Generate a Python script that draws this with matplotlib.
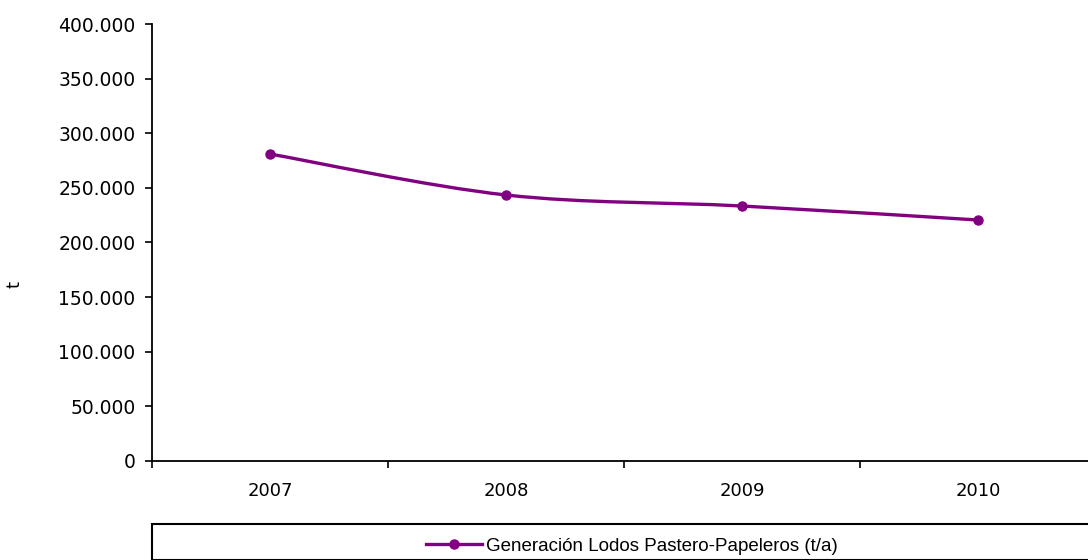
import matplotlib
matplotlib.use("Agg")
from matplotlib import pyplot as plt
from matplotlib.path import Path
from matplotlib.patches import PathPatch, Rectangle
from matplotlib.lines import Line2D
from matplotlib.ticker import FuncFormatter, FixedLocator
import numpy as np

years = ['2007', '2008', '2009', '2010']
lodos = [281000, 243500, 233400, 220600]
serie = 'Generación Lodos Pastero-Papeleros (t/a)'
color = '#800080'

fig = plt.figure(figsize=(10.88, 5.6), dpi=100)
ax = fig.add_axes([152/1088, 99/560, 944/1088, 437/560])

xs = np.arange(len(years))
ys = np.array(lodos, dtype=float)

# smoothed line (catmull-rom -> bezier), like excel
verts = [(xs[0], ys[0])]
codes = [Path.MOVETO]
for i in range(len(xs) - 1):
    p0 = np.array([xs[max(i-1, 0)], ys[max(i-1, 0)]])
    p1 = np.array([xs[i], ys[i]])
    p2 = np.array([xs[i+1], ys[i+1]])
    p3 = np.array([xs[min(i+2, len(xs)-1)], ys[min(i+2, len(xs)-1)]])
    c1 = p1 + (p2 - p0) / 6
    c2 = p2 - (p3 - p1) / 6
    verts += [tuple(c1), tuple(c2), tuple(p2)]
    codes += [Path.CURVE4] * 3
ax.add_patch(PathPatch(Path(verts, codes), fill=False, edgecolor=color, lw=2.4))
ax.plot(xs, ys, ls='none', marker='o', ms=6.5, color=color)

ax.set_xlim(-0.5, len(years) - 0.5)
ax.set_ylim(0, 400000)
ax.yaxis.set_major_locator(FixedLocator(np.arange(0, 400001, 50000)))
ax.yaxis.set_major_formatter(FuncFormatter(lambda v, p: f'{int(v):,}'.replace(',', '.')))
ax.set_xticks(xs)
ax.set_xticklabels(years)
ax.set_xticks(np.arange(-0.5, len(years), 1.0), minor=True)
ax.tick_params(axis='x', which='major', length=0, pad=15, labelsize=13)
ax.tick_params(axis='x', which='minor', length=5, width=1.2, direction='out')
ax.tick_params(axis='y', length=5, width=1.2, direction='out', labelsize=13.5, pad=7)

for s in ['top', 'right']:
    ax.spines[s].set_visible(False)
for s in ['left', 'bottom']:
    ax.spines[s].set_linewidth(1.3)

fig.text(14/1088, 1 - 285/560, 't', rotation=90, ha='center', va='center', fontsize=13)

# legend box
fig.patches.append(Rectangle((152/1088, 0), 1.0, 1 - 524/560, transform=fig.transFigure,
                             fill=False, edgecolor='black', lw=1.5, clip_on=False))
h = Line2D([], [], color=color, lw=2.4, marker='o', ms=6.5)
fig.legend([h], [serie], loc='center', bbox_to_anchor=(632/1088, 1 - 546/560),
           frameon=False, handlelength=3.0, handletextpad=0.2,
           prop={'family': 'Liberation Sans', 'size': 13.5})

fig.savefig('out.png', dpi=100)
